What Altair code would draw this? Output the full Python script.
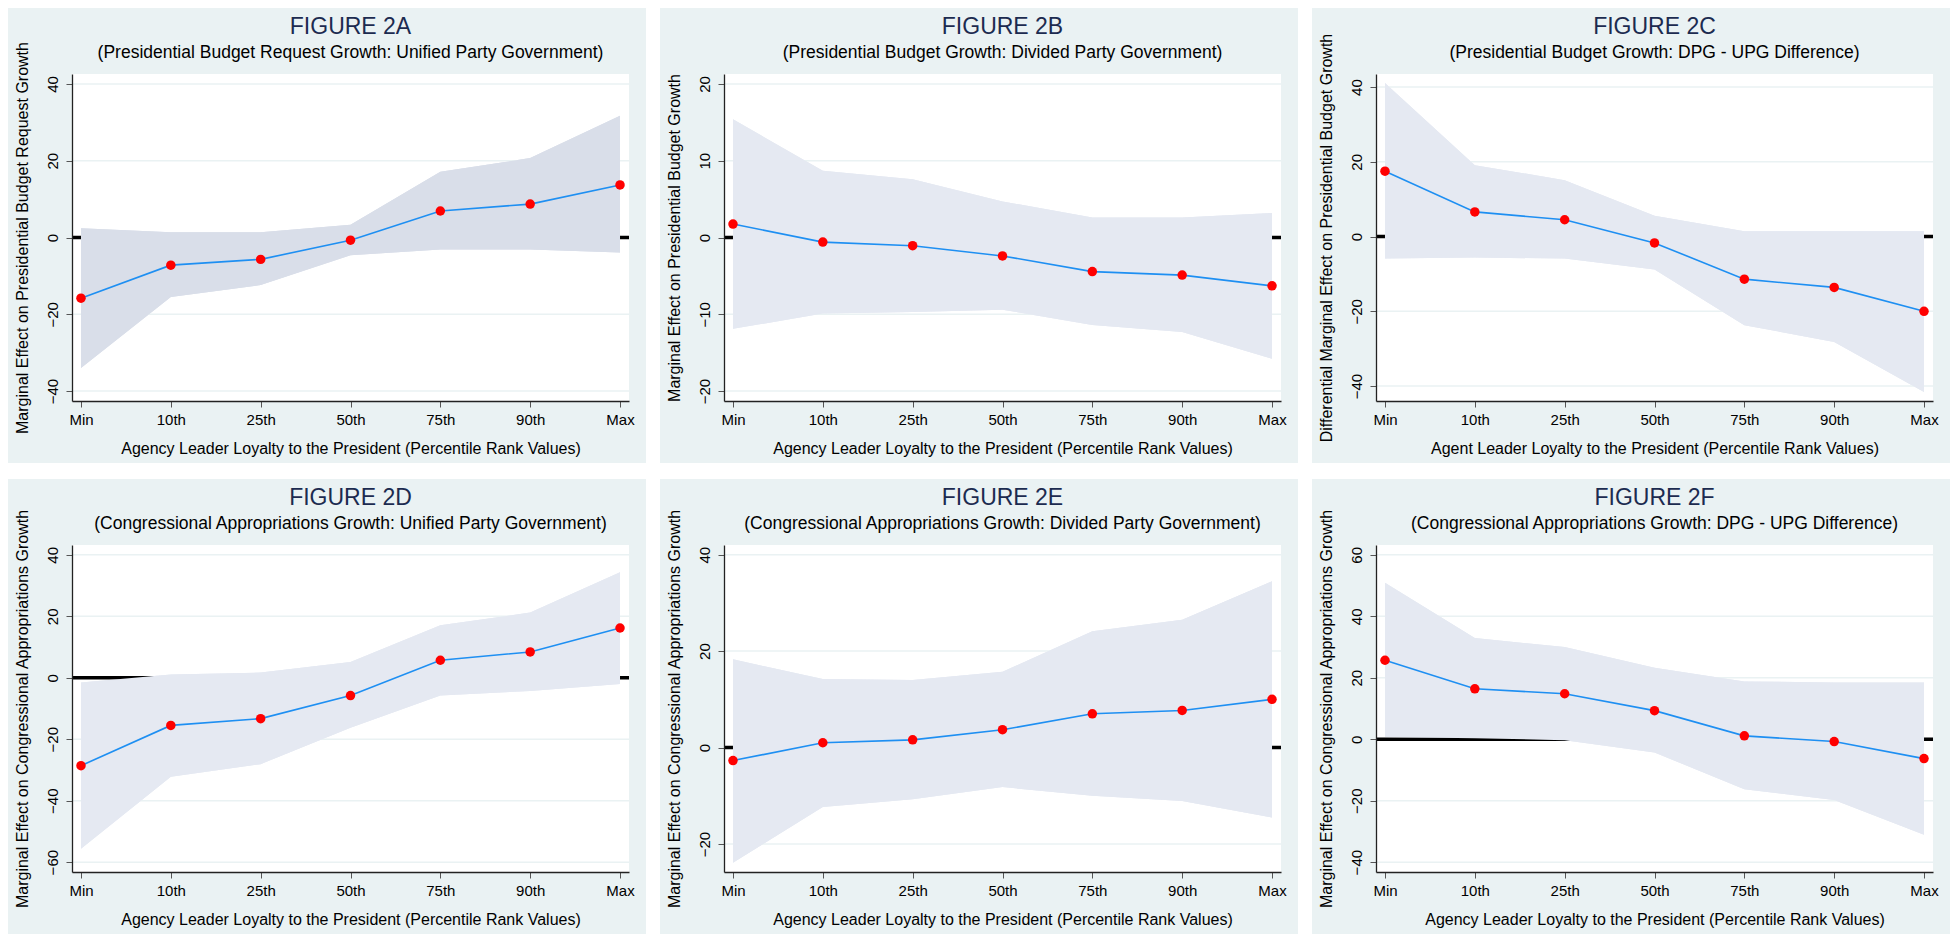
import altair as alt
import pandas as pd

# ---------------- data ----------------
tick_labels = ["Min", "10th", "25th", "50th", "75th", "90th", "Max"]
positions = [0, 1, 2, 3, 4, 5, 6]

a_est = [-15.8, -7.2, -5.7, -0.7, 6.9, 8.7, 13.7]
a_hi = [2.4, 1.4, 1.4, 3.3, 17.1, 20.7, 31.7]
a_lo = [-34.0, -15.5, -12.4, -4.6, -3.1, -3.1, -3.9]

b_est = [1.75, -0.6, -1.07, -2.4, -4.44, -4.9, -6.3]
b_hi = [15.4, 8.7, 7.6, 4.7, 2.6, 2.6, 3.2]
b_lo = [-11.9, -9.9, -9.7, -9.4, -11.4, -12.3, -15.8]

c_est = [17.5, 6.6, 4.5, -1.7, -11.4, -13.6, -20.0]
c_hi = [41.1, 19.1, 15.1, 5.6, 1.4, 1.4, 1.4]
c_lo = [-5.9, -5.6, -5.9, -8.8, -23.7, -28.2, -41.6]

d_est = [-28.6, -15.5, -13.3, -5.8, 5.7, 8.4, 16.2]
d_hi = [-1.5, 1.1, 1.7, 5.1, 17.1, 21.2, 34.3]
d_lo = [-55.6, -32.2, -28.1, -16.3, -5.8, -4.3, -2.0]

e_est = [-2.7, 1.0, 1.6, 3.7, 7.0, 7.7, 10.0]
e_hi = [18.3, 14.2, 14.0, 15.7, 24.1, 26.5, 34.5]
e_lo = [-23.9, -12.3, -10.7, -8.2, -10.0, -11.1, -14.5]

f_est = [25.7, 16.4, 14.8, 9.3, 1.1, -0.75, -6.3]
f_hi = [50.9, 32.9, 30.0, 23.3, 18.8, 18.5, 18.5]
f_lo = [0.75, 0.3, -0.3, -4.3, -16.3, -19.8, -31.1]

titles = ["FIGURE 2A", "FIGURE 2B", "FIGURE 2C", "FIGURE 2D", "FIGURE 2E", "FIGURE 2F"]
subtitles = [
    "(Presidential Budget Request Growth: Unified Party Government)",
    "(Presidential Budget Growth: Divided Party Government)",
    "(Presidential Budget Growth: DPG - UPG Difference)",
    "(Congressional Appropriations Growth: Unified Party Government)",
    "(Congressional Appropriations Growth: Divided Party Government)",
    "(Congressional Appropriations Growth: DPG - UPG Difference)",
]
y_titles = [
    "Marginal Effect on Presidential Budget Request Growth",
    "Marginal Effect on Presidential Budget Growth",
    "Differential Marginal Effect on Presidential Budget Growth",
    "Marginal Effect on Congressional Appropriations Growth",
    "Marginal Effect on Congressional Appropriations Growth",
    "Marginal Effect on Congressional Appropriations Growth",
]
x_titles = [
    "Agency Leader Loyalty to the President (Percentile Rank Values)",
    "Agency Leader Loyalty to the President (Percentile Rank Values)",
    "Agent Leader Loyalty to the President (Percentile Rank Values)",
    "Agency Leader Loyalty to the President (Percentile Rank Values)",
    "Agency Leader Loyalty to the President (Percentile Rank Values)",
    "Agency Leader Loyalty to the President (Percentile Rank Values)",
]
y_domains = [[-42.6, 42.6], [-21.3, 21.3], [-44.0, 43.5], [-63.2, 43.2], [-25.8, 42.0], [-43.2, 63.2]]
y_ticks = [
    [-40, -20, 0, 20, 40],
    [-20, -10, 0, 10, 20],
    [-40, -20, 0, 20, 40],
    [-60, -40, -20, 0, 20, 40],
    [-20, 0, 20, 40],
    [-40, -20, 0, 20, 40, 60],
]
series = [
    (a_est, a_lo, a_hi),
    (b_est, b_lo, b_hi),
    (c_est, c_lo, c_hi),
    (d_est, d_lo, d_hi),
    (e_est, e_lo, e_hi),
    (f_est, f_lo, f_hi),
]
band_colors = ["#d9dee9", "#e5e9f2", "#e5e9f2", "#e5e9f2", "#e5e9f2", "#e5e9f2"]

# ---------------- styling ----------------
PANEL_BG = "#eaf2f3"
FONT = "Liberation Sans"
W, H = 557, 327
ML, MR, MT, MB = 64, 17, 66, 62

label_expr = "[" + ",".join("'%s'" % t for t in tick_labels) + "][datum.value]"


def panel(i):
    est, lo, hi = series[i]
    df = pd.DataFrame({"pos": positions, "est": est, "lo": lo, "hi": hi})
    ysc = alt.Scale(domain=y_domains[i], nice=False, zero=False)
    xsc = alt.Scale(domain=[-0.1, 6.1], nice=False, zero=False)
    one = pd.DataFrame({"k": [0]})

    bg = alt.Chart(one).mark_rect(color=PANEL_BG, opacity=1).encode(
        x=alt.value(-ML), x2=alt.value(W + MR), y=alt.value(-MT), y2=alt.value(H + MB)
    )
    white = alt.Chart(one).mark_rect(color="white", opacity=1).encode(
        x=alt.value(0), x2=alt.value(W), y=alt.value(0), y2=alt.value(H)
    )
    band = alt.Chart(df).mark_area(color=band_colors[i], opacity=1).encode(
        x=alt.X(
            "pos:Q",
            scale=xsc,
            axis=alt.Axis(
                values=positions,
                labelExpr=label_expr,
                title=x_titles[i],
                grid=False,
                labelAngle=0,
                labelPadding=5,
                titlePadding=13,
                zindex=2,
            ),
        ),
        y=alt.Y(
            "lo:Q",
            scale=ysc,
            axis=alt.Axis(
                values=y_ticks[i],
                title=y_titles[i],
                grid=False,
                labelAngle=270,
                labelAlign="center",
                labelBaseline="bottom",
                labelPadding=6,
                titlePadding=15,
                zindex=2,
            ),
        ),
        y2="hi:Q",
    )
    grid = alt.Chart(pd.DataFrame({"v": y_ticks[i]})).mark_rule(
        color=PANEL_BG, strokeWidth=1.5
    ).encode(y=alt.Y("v:Q", scale=ysc))
    zero = alt.Chart(one).mark_rule(color="black", strokeWidth=3.5).encode(
        y=alt.datum(0, scale=ysc)
    )
    band2 = alt.Chart(df).mark_area(color=band_colors[i], opacity=1).encode(
        x=alt.X("pos:Q", scale=xsc),
        y=alt.Y("lo:Q", scale=ysc),
        y2="hi:Q",
    )
    line = alt.Chart(df).mark_line(color="#1e8ff2", strokeWidth=1.6, opacity=1).encode(
        x=alt.X("pos:Q", scale=xsc), y=alt.Y("est:Q", scale=ysc)
    )
    pts = alt.Chart(df).mark_point(filled=True, color="#ff0000", size=90, opacity=1).encode(
        x=alt.X("pos:Q", scale=xsc), y=alt.Y("est:Q", scale=ysc)
    )
    return alt.layer(bg, white, band, grid, zero, band2, line, pts).properties(
        width=W,
        height=H,
        title=alt.TitleParams(
            text=titles[i],
            subtitle=subtitles[i],
            anchor="middle",
            frame="group",
            font=FONT,
            fontSize=23,
            fontWeight="normal",
            color="#1c2b50",
            subtitleFont=FONT,
            subtitleFontSize=17.5,
            subtitleColor="black",
            subtitlePadding=5,
            offset=-53,
            zindex=2,
        ),
    )


row1 = alt.hconcat(panel(0), panel(1), panel(2), spacing=14)
row2 = alt.hconcat(panel(3), panel(4), panel(5), spacing=14)
chart = (
    alt.vconcat(row1, row2, spacing=16)
    .properties(padding=0, background="white")
    .configure_view(stroke=None)
    .configure_axis(
        domainColor="#222222",
        domainWidth=1.3,
        tickColor="#555555",
        tickSize=6,
        tickWidth=1,
        labelFont=FONT,
        labelFontSize=15,
        labelColor="black",
        titleFont=FONT,
        titleFontSize=16,
        titleFontWeight="normal",
        titleColor="black",
    )
)

chart.save("out.html", embed_options={"renderer": "svg", "actions": False})
